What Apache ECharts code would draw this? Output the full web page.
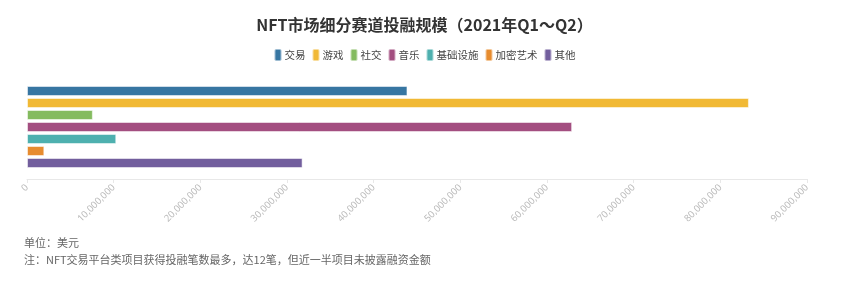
<!DOCTYPE html>
<html>
<head>
<meta charset="utf-8">
<script src="https://cdn.jsdelivr.net/npm/echarts@6/dist/echarts.min.js"></script>
<style>
  html, body { margin: 0; padding: 0; background: #fff; }
  #main { width: 849px; height: 281px; }
</style>
</head>
<body>
<div id="main"></div>
<script>
// 分类与数值（单位：美元）
const categories = ['2021Q1~Q2']
const seriesNames = ['交易', '游戏', '社交', '音乐', '基础设施', '加密艺术', '其他']
const seriesValues = [43900000, 83300000, 7600000, 62900000, 10300000, 2000000, 31800000]
const colors = ['#2c6f9d', '#f0b52a', '#7db756', '#9e4479', '#44acab', '#e68624', '#6a5598']

const chart = echarts.init(document.getElementById('main'))
const font = '"Noto Sans CJK SC", "Noto Sans", sans-serif'

const option = {
  color: colors,
  textStyle: { fontFamily: font },
  title: {
    text: 'NFT市场细分赛道投融规模（2021年Q1～Q2）',
    left: 'center',
    top: 12,
    textStyle: { fontSize: 16, fontWeight: 'bold', color: '#333', fontFamily: font }
  },
  legend: {
    data: seriesNames,
    top: 43,
    left: 'center',
    icon: 'roundRect',
    itemWidth: 7,
    itemHeight: 12,
    itemGap: 6,
    textStyle: { fontSize: 10.5, color: '#444', fontFamily: font, padding: [0, 0, 0, -2] }
  },
  grid: {
    left: 27,
    right: 42,
    top: 75,
    bottom: 102
  },
  xAxis: {
    type: 'value',
    min: 0,
    max: 90000000,
    interval: 10000000,
    splitLine: { show: false },
    axisLine: { show: true, lineStyle: { color: '#e8e8e8' } },
    axisTick: { show: true, length: 4, lineStyle: { color: '#e8e8e8' } },
    axisLabel: {
      rotate: 45,
      fontSize: 9.5,
      margin: 7,
      color: '#bbbbbb',
      fontFamily: '"Noto Sans", sans-serif',
      formatter: v => v.toLocaleString('en-US')
    }
  },
  yAxis: {
    type: 'category',
    data: categories,
    show: false
  },
  series: seriesNames.map((name, i) => ({
    name: name,
    type: 'bar',
    barWidth: 10,
    barGap: '20%',
    itemStyle: { borderColor: 'rgba(255,255,255,0.55)', borderWidth: 1, opacity: 0.95 },
    data: [seriesValues[i]]
  })),
  graphic: [
    {
      type: 'text',
      left: 24,
      top: 237,
      style: { text: '单位：美元', fill: '#666', font: '11px ' + font }
    },
    {
      type: 'text',
      left: 24,
      top: 254,
      style: { text: '注：NFT交易平台类项目获得投融笔数最多，达12笔，但近一半项目未披露融资金额', fill: '#666', font: '11px ' + font }
    }
  ]
}
option && chart.setOption(option)
</script>
</body>
</html>
